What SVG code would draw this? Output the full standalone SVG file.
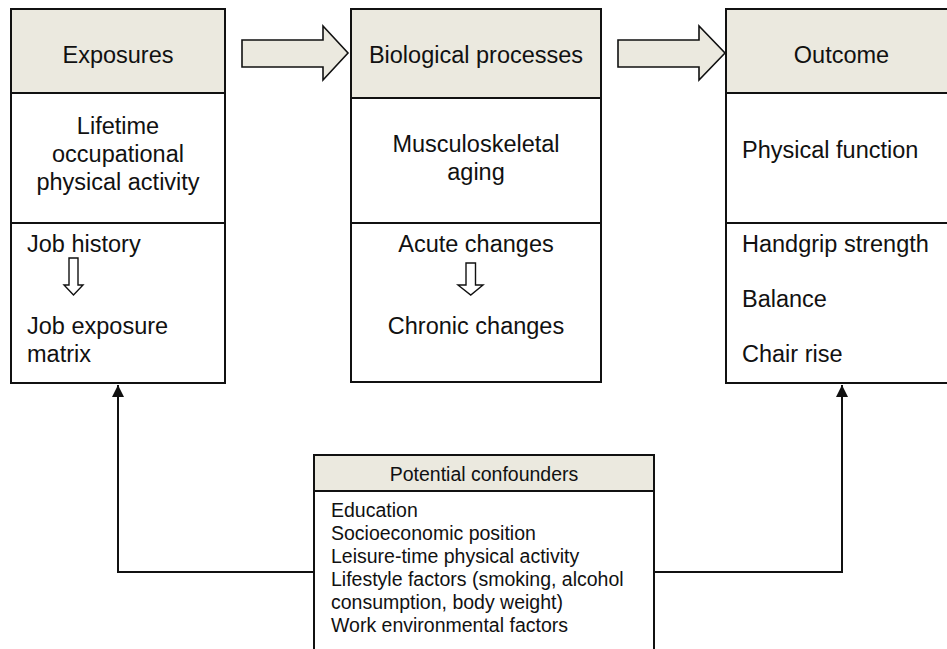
<svg xmlns="http://www.w3.org/2000/svg" width="947" height="649" viewBox="0 0 947 649">
<defs>
<style>
.box{fill:#ffffff;stroke:#111111;stroke-width:2}
.hdr{fill:#ebe9df;stroke:#111111;stroke-width:2}
.div{stroke:#111111;stroke-width:2;fill:none}
.big{fill:#ebe9df;stroke:#111111;stroke-width:1.6;stroke-linejoin:miter}
.small{fill:#ffffff;stroke:#111111;stroke-width:1.4}
.t{font-family:"Liberation Sans",Arial,sans-serif;font-size:23.5px;fill:#111111}
.s{font-family:"Liberation Sans",Arial,sans-serif;font-size:19.5px;fill:#111111}
.c{text-anchor:middle}
.conn{fill:none;stroke:#111111;stroke-width:2}
</style>
<marker id="ah" markerWidth="12" markerHeight="12" viewBox="0 0 12 12" refX="12" refY="6" orient="auto" markerUnits="userSpaceOnUse">
<path d="M0,0 L12,6 L0,12 Z" fill="#111111"/>
</marker>
</defs>
<rect width="947" height="649" fill="#ffffff"/>

<g id="connectors">
<path class="big" d="M242,40 H323 V26 L348,53 L323,80 V67 H242 Z"/>
<path class="big" d="M618,40 H699 V26 L725,53 L699,80 V67 H618 Z"/>
<polyline class="conn" points="314,572 118,572 118,385" marker-end="url(#ah)"/>
<polyline class="conn" points="654,572 842,572 842,385" marker-end="url(#ah)"/>
</g>

<g id="exposures">
<rect class="box" x="11" y="9" width="214" height="374"/>
<rect class="hdr" x="11" y="9" width="214" height="84"/>
<line class="div" x1="11" y1="223" x2="225" y2="223"/>
<text class="t c" x="118" y="63">Exposures</text>
<text class="t c" x="118" y="134">Lifetime</text>
<text class="t c" x="118" y="162">occupational</text>
<text class="t c" x="118" y="190">physical activity</text>
<text class="t" x="27" y="252">Job history</text>
<path class="small" d="M69,258 H78 V285 H83 L73.5,295 L64,285 H69 Z"/>
<text class="t" x="27" y="334">Job exposure</text>
<text class="t" x="27" y="362">matrix</text>
</g>

<g id="biological">
<rect class="box" x="351" y="9" width="250" height="373"/>
<rect class="hdr" x="351" y="9" width="250" height="89"/>
<line class="div" x1="351" y1="223" x2="601" y2="223"/>
<text class="t c" x="476" y="63">Biological processes</text>
<text class="t c" x="476" y="152">Musculoskeletal</text>
<text class="t c" x="476" y="180">aging</text>
<text class="t c" x="476" y="252">Acute changes</text>
<path class="small" d="M466,263 H475.5 V285 H483 L470.75,295 L458,285 H466 Z"/>
<text class="t c" x="476" y="334">Chronic changes</text>
</g>

<g id="outcome">
<rect class="box" x="726" y="9" width="240" height="374"/>
<rect class="hdr" x="726" y="9" width="240" height="84"/>
<line class="div" x1="726" y1="223" x2="966" y2="223"/>
<text class="t c" x="841.5" y="63">Outcome</text>
<text class="t" x="742" y="158">Physical function</text>
<text class="t" x="742" y="252">Handgrip strength</text>
<text class="t" x="742" y="307">Balance</text>
<text class="t" x="742" y="362">Chair rise</text>
</g>

<g id="confounders">
<rect class="box" x="314" y="455" width="340" height="210"/>
<rect class="hdr" x="314" y="455" width="340" height="36"/>
<text class="s c" x="484" y="481">Potential confounders</text>
<text class="s" x="331" y="517">Education</text>
<text class="s" x="331" y="540">Socioeconomic position</text>
<text class="s" x="331" y="563">Leisure-time physical activity</text>
<text class="s" x="331" y="586">Lifestyle factors (smoking, alcohol</text>
<text class="s" x="331" y="609">consumption, body weight)</text>
<text class="s" x="331" y="632">Work environmental factors</text>
</g>
</svg>
